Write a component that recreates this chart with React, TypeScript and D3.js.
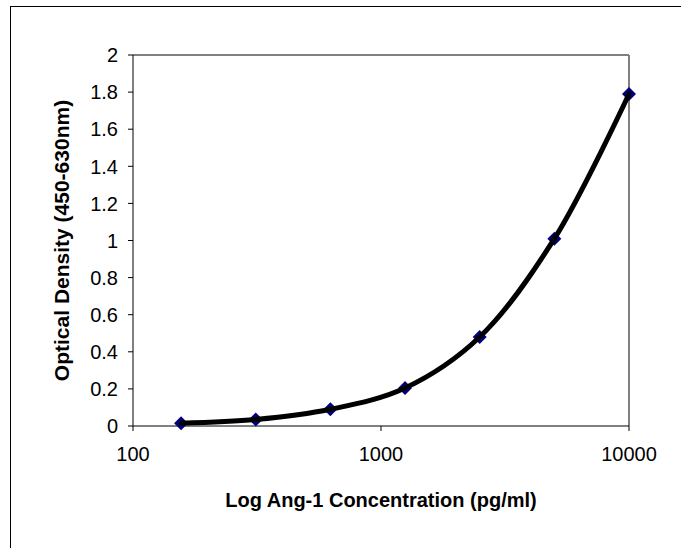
import React from "react";
import * as d3 from "d3";

const concentrations = [156.25, 312.5, 625, 1250, 2500, 5000, 10000];
const opticalDensity = [0.015, 0.035, 0.09, 0.205, 0.48, 1.01, 1.79];
const xTicks = [100, 1000, 10000];
const yTicks = [0, 0.2, 0.4, 0.6, 0.8, 1, 1.2, 1.4, 1.6, 1.8, 2];
const xTitle = "Log Ang-1 Concentration (pg/ml)";
const yTitle = "Optical Density (450-630nm)";

const W = 681;
const H = 548;
const left = 133;
const right = 629;
const top = 55;
const bottom = 426;

export default function App() {
  const x = d3.scaleLog().domain([100, 10000]).range([left, right]);
  const y = d3.scaleLinear().domain([0, 2]).range([bottom, top]);
  const pts: [number, number][] = concentrations.map((c, i) => [x(c), y(opticalDensity[i])]);
  const line = d3.line().curve(d3.curveCatmullRom.alpha(0.5))(pts) || "";
  const font = "'Liberation Sans', Arial, sans-serif";
  const m = 7;
  return (
    <svg width={W} height={H} style={{ position: "absolute", left: 0, top: 0, background: "#fff" }}>
      <rect x={0} y={0} width={W} height={H} fill="#fff" />
      <line x1={10.5} y1={6} x2={10.5} y2={H} stroke="#000" strokeWidth={1} />
      <line x1={10} y1={6.5} x2={W} y2={6.5} stroke="#000" strokeWidth={1} />
      <line x1={left} y1={top} x2={right} y2={top} stroke="#808080" strokeWidth={2} />
      <line x1={right} y1={top} x2={right} y2={bottom} stroke="#808080" strokeWidth={2} />
      <line x1={left} y1={top} x2={left} y2={bottom} stroke="#000" strokeWidth={1} />
      <line x1={left} y1={bottom} x2={right} y2={bottom} stroke="#000" strokeWidth={1} />
      {yTicks.map((t) => (
        <g key={"y" + t}>
          <line x1={left - 5} x2={left} y1={y(t)} y2={y(t)} stroke="#000" />
          <text x={left - 15} y={y(t)} dy="0.36em" textAnchor="end" fontFamily={font} fontSize={20}>
            {String(t)}
          </text>
        </g>
      ))}
      {xTicks.map((t) => (
        <g key={"x" + t}>
          <line x1={x(t)} x2={x(t)} y1={bottom} y2={bottom + 5} stroke="#000" />
          <text x={x(t)} y={461} textAnchor="middle" fontFamily={font} fontSize={20}>
            {String(t)}
          </text>
        </g>
      ))}
      {pts.map(([px, py], i) => (
        <path key={i} d={`M${px},${py - m}L${px + m},${py}L${px},${py + m}L${px - m},${py}Z`} fill="#000080" />
      ))}
      <path d={line} fill="none" stroke="#000" strokeWidth={5} strokeLinecap="round" />
      <text x={(left + right) / 2} y={507} textAnchor="middle" fontFamily={font} fontSize={20} fontWeight="bold">
        {xTitle}
      </text>
      <text
        transform={`translate(69,${(top + bottom) / 2}) rotate(-90)`}
        textAnchor="middle"
        fontFamily={font}
        fontSize={21}
        fontWeight="bold"
      >
        {yTitle}
      </text>
    </svg>
  );
}
